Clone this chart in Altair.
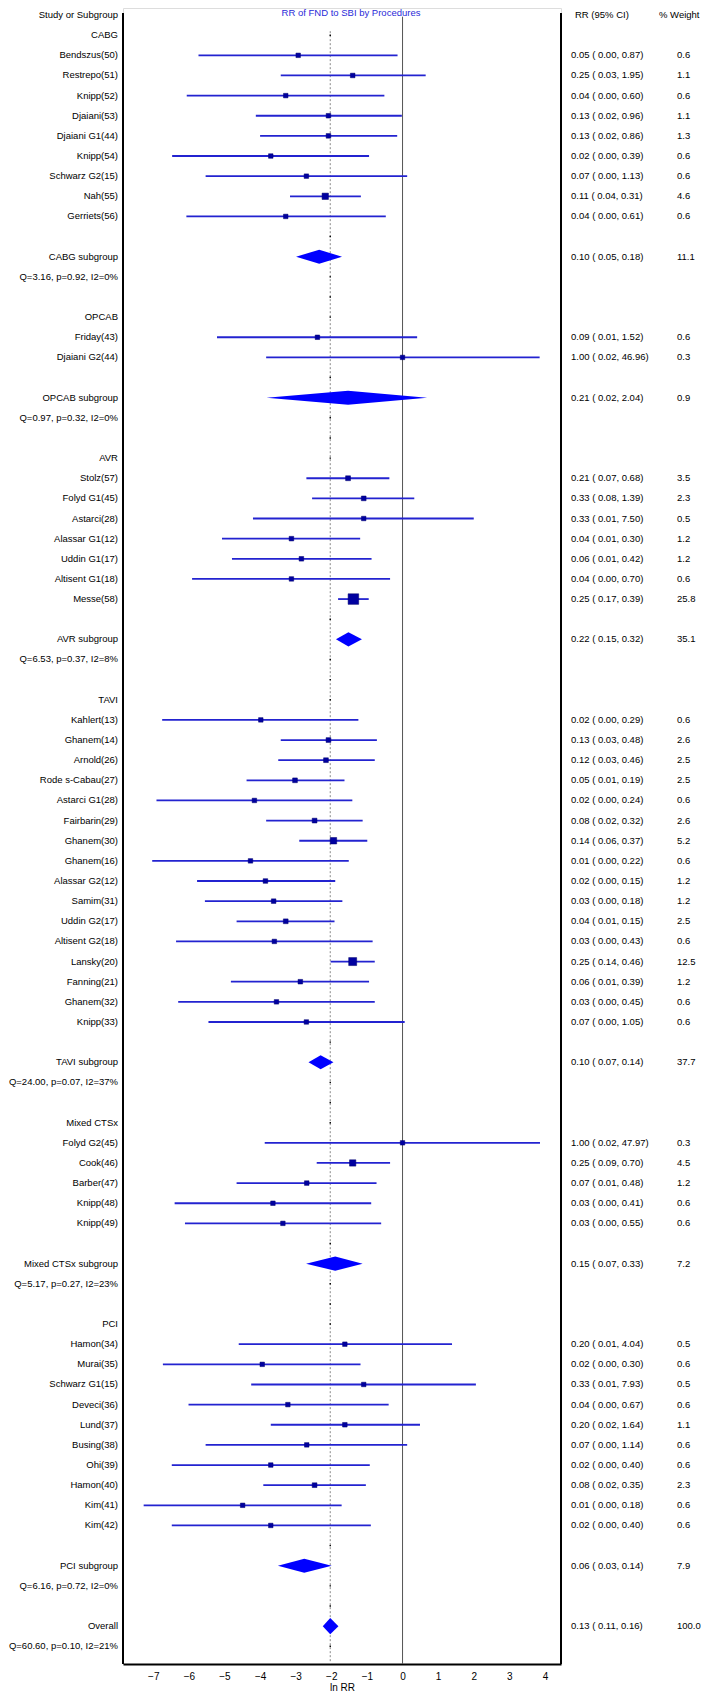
import altair as alt
import pandas as pd

# ------------------------------------------------------------------ data
TITLE = "RR of FND to SBI by Procedures"

group_names = ["CABG", "OPCAB", "AVR", "TAVI", "Mixed CTSx", "PCI"]

cabg_names = ["Bendszus(50)", "Restrepo(51)", "Knipp(52)", "Djaiani(53)", "Djaiani G1(44)",
              "Knipp(54)", "Schwarz G2(15)", "Nah(55)", "Gerriets(56)"]
cabg_rr = [0.05, 0.25, 0.04, 0.13, 0.13, 0.02, 0.07, 0.11, 0.04]
cabg_lo = [0.00, 0.03, 0.00, 0.02, 0.02, 0.00, 0.00, 0.04, 0.00]
cabg_hi = [0.87, 1.95, 0.60, 0.96, 0.86, 0.39, 1.13, 0.31, 0.61]
cabg_w = [0.6, 1.1, 0.6, 1.1, 1.3, 0.6, 0.6, 4.6, 0.6]
cabg_ln = [-2.93, -1.40, -3.28, -2.08, -2.08, -3.70, -2.70, -2.17, -3.28]
cabg_ln_lo = [-5.73, -3.42, -6.06, -4.12, -4.00, -6.47, -5.53, -3.16, -6.07]
cabg_ln_hi = [-0.14, 0.65, -0.51, -0.02, -0.15, -0.94, 0.13, -1.17, -0.47]

opcab_names = ["Friday(43)", "Djaiani G2(44)"]
opcab_rr = [0.09, 1.00]
opcab_lo = [0.01, 0.02]
opcab_hi = [1.52, 46.96]
opcab_w = [0.6, 0.3]
opcab_ln = [-2.39, 0.00]
opcab_ln_lo = [-5.21, -3.83]
opcab_ln_hi = [0.41, 3.85]

avr_names = ["Stolz(57)", "Folyd G1(45)", "Astarci(28)", "Alassar G1(12)", "Uddin G1(17)",
             "Altisent G1(18)", "Messe(58)"]
avr_rr = [0.21, 0.33, 0.33, 0.04, 0.06, 0.04, 0.25]
avr_lo = [0.07, 0.08, 0.01, 0.01, 0.01, 0.00, 0.17]
avr_hi = [0.68, 1.39, 7.50, 0.30, 0.42, 0.70, 0.39]
avr_w = [3.5, 2.3, 0.5, 1.2, 1.2, 0.6, 25.8]
avr_ln = [-1.53, -1.09, -1.09, -3.12, -2.84, -3.12, -1.38]
avr_ln_lo = [-2.70, -2.54, -4.20, -5.07, -4.79, -5.91, -1.81]
avr_ln_hi = [-0.37, 0.33, 2.00, -1.19, -0.87, -0.35, -0.95]

tavi_names = ["Kahlert(13)", "Ghanem(14)", "Arnold(26)", "Rode s-Cabau(27)", "Astarci G1(28)",
              "Fairbarin(29)", "Ghanem(30)", "Ghanem(16)", "Alassar G2(12)", "Samim(31)",
              "Uddin G2(17)", "Altisent G2(18)", "Lansky(20)", "Fanning(21)", "Ghanem(32)",
              "Knipp(33)"]
tavi_rr = [0.02, 0.13, 0.12, 0.05, 0.02, 0.08, 0.14, 0.01, 0.02, 0.03, 0.04, 0.03, 0.25, 0.06, 0.03, 0.07]
tavi_lo = [0.00, 0.03, 0.03, 0.01, 0.00, 0.02, 0.06, 0.00, 0.00, 0.00, 0.01, 0.00, 0.14, 0.01, 0.00, 0.00]
tavi_hi = [0.29, 0.48, 0.46, 0.19, 0.24, 0.32, 0.37, 0.22, 0.15, 0.18, 0.15, 0.43, 0.46, 0.39, 0.45, 1.05]
tavi_w = [0.6, 2.6, 2.5, 2.5, 0.6, 2.6, 5.2, 0.6, 1.2, 1.2, 2.5, 0.6, 12.5, 1.2, 0.6, 0.6]
tavi_ln = [-3.98, -2.08, -2.15, -3.02, -4.16, -2.47, -1.94, -4.27, -3.85, -3.62, -3.28, -3.60,
           -1.40, -2.87, -3.54, -2.70]
tavi_ln_lo = [-6.75, -3.42, -3.49, -4.38, -6.91, -3.83, -2.90, -7.03, -5.77, -5.55, -4.66, -6.36,
              -2.02, -4.82, -6.30, -5.45]
tavi_ln_hi = [-1.24, -0.72, -0.78, -1.63, -1.41, -1.12, -0.99, -1.51, -1.89, -1.69, -1.91, -0.84,
              -0.78, -0.94, -0.78, 0.06]

mixed_names = ["Folyd G2(45)", "Cook(46)", "Barber(47)", "Knipp(48)", "Knipp(49)"]
mixed_rr = [1.00, 0.25, 0.07, 0.03, 0.03]
mixed_lo = [0.02, 0.09, 0.01, 0.00, 0.00]
mixed_hi = [47.97, 0.70, 0.48, 0.41, 0.55]
mixed_w = [0.3, 4.5, 1.2, 0.6, 0.6]
mixed_ln = [0.00, -1.40, -2.69, -3.64, -3.36]
mixed_ln_lo = [-3.87, -2.41, -4.66, -6.40, -6.11]
mixed_ln_hi = [3.86, -0.35, -0.73, -0.88, -0.60]

pci_names = ["Hamon(34)", "Murai(35)", "Schwarz G1(15)", "Deveci(36)", "Lund(37)", "Busing(38)",
             "Ohi(39)", "Hamon(40)", "Kim(41)", "Kim(42)"]
pci_rr = [0.20, 0.02, 0.33, 0.04, 0.20, 0.07, 0.02, 0.08, 0.01, 0.02]
pci_lo = [0.01, 0.00, 0.01, 0.00, 0.02, 0.00, 0.00, 0.02, 0.00, 0.00]
pci_hi = [4.04, 0.30, 7.93, 0.67, 1.64, 1.14, 0.40, 0.35, 0.18, 0.40]
pci_w = [0.5, 0.6, 0.5, 0.6, 1.1, 0.6, 0.6, 2.3, 0.6, 0.6]
pci_ln = [-1.62, -3.94, -1.09, -3.22, -1.62, -2.69, -3.70, -2.47, -4.49, -3.70]
pci_ln_lo = [-4.60, -6.73, -4.25, -6.01, -3.70, -5.53, -6.48, -3.91, -7.27, -6.48]
pci_ln_hi = [1.39, -1.18, 2.06, -0.39, 0.49, 0.13, -0.92, -1.03, -1.71, -0.89]

# subgroup summaries (same order as group_names)
sub_rr = [0.10, 0.21, 0.22, 0.10, 0.15, 0.06]
sub_lo = [0.05, 0.02, 0.15, 0.07, 0.07, 0.03]
sub_hi = [0.18, 2.04, 0.32, 0.14, 0.33, 0.14]
sub_w = [11.1, 0.9, 35.1, 37.7, 7.2, 7.9]
sub_ln = [-2.34, -1.53, -1.52, -2.30, -1.89, -2.76]
sub_ln_lo = [-2.99, -3.82, -1.87, -2.64, -2.71, -3.50]
sub_ln_hi = [-1.70, 0.69, -1.14, -1.94, -1.12, -1.99]
sub_het = ["Q=3.16, p=0.92, I2=0%", "Q=0.97, p=0.32, I2=0%", "Q=6.53, p=0.37, I2=8%",
           "Q=24.00, p=0.07, I2=37%", "Q=5.17, p=0.27, I2=23%", "Q=6.16, p=0.72, I2=0%"]

overall_rr, overall_lo, overall_hi, overall_w = 0.13, 0.11, 0.16, 100.0
overall_ln, overall_ln_lo, overall_ln_hi = -2.03, -2.24, -1.80
overall_het = "Q=60.60, p=0.10, I2=21%"

x_ticks = [-7, -6, -5, -4, -3, -2, -1, 0, 1, 2, 3, 4]

# ------------------------------------------------------------------ layout constants
XMIN, XMAX = -7.85, 4.45
YMIN, YMAX = -0.35, 81.88
W, H = 438, 1656
FONT = "Liberation Sans"
FS = 9.5
DIAM_H = 0.35
DIAM_H_OVERALL = 0.40

groups = [
    (cabg_names, cabg_rr, cabg_lo, cabg_hi, cabg_w, cabg_ln, cabg_ln_lo, cabg_ln_hi),
    (opcab_names, opcab_rr, opcab_lo, opcab_hi, opcab_w, opcab_ln, opcab_ln_lo, opcab_ln_hi),
    (avr_names, avr_rr, avr_lo, avr_hi, avr_w, avr_ln, avr_ln_lo, avr_ln_hi),
    (tavi_names, tavi_rr, tavi_lo, tavi_hi, tavi_w, tavi_ln, tavi_ln_lo, tavi_ln_hi),
    (mixed_names, mixed_rr, mixed_lo, mixed_hi, mixed_w, mixed_ln, mixed_ln_lo, mixed_ln_hi),
    (pci_names, pci_rr, pci_lo, pci_hi, pci_w, pci_ln, pci_ln_lo, pci_ln_hi),
]


def rr_text(rr, lo, hi):
    return f"{rr:.2f} ( {lo:.2f}, {hi:.2f})"


labels, studies, diamonds, stats = [], [], [], []
labels.append({"row": 0, "label": "Study or Subgroup"})
r = 1
for gi, (names, rr, lo, hi, w, ln, lnlo, lnhi) in enumerate(groups):
    labels.append({"row": r, "label": group_names[gi]})
    r += 1
    for i in range(len(names)):
        labels.append({"row": r, "label": names[i]})
        studies.append({"row": r, "pt": ln[i], "lo": lnlo[i], "hi": lnhi[i], "w": w[i]})
        stats.append({"row": r, "rr": rr_text(rr[i], lo[i], hi[i]), "w": f"{w[i]:.1f}"})
        r += 1
    r += 1
    labels.append({"row": r, "label": f"{group_names[gi]} subgroup"})
    stats.append({"row": r, "rr": rr_text(sub_rr[gi], sub_lo[gi], sub_hi[gi]), "w": f"{sub_w[gi]:.1f}"})
    diamonds.append({"id": gi, "x": sub_ln_lo[gi], "y": r, "y2": r})
    diamonds.append({"id": gi, "x": sub_ln[gi], "y": r - DIAM_H, "y2": r + DIAM_H})
    diamonds.append({"id": gi, "x": sub_ln_hi[gi], "y": r, "y2": r})
    r += 1
    labels.append({"row": r, "label": sub_het[gi]})
    r += 2
labels.append({"row": r, "label": "Overall"})
stats.append({"row": r, "rr": rr_text(overall_rr, overall_lo, overall_hi), "w": f"{overall_w:.1f}"})
diamonds.append({"id": 99, "x": overall_ln_lo, "y": r, "y2": r})
diamonds.append({"id": 99, "x": overall_ln, "y": r - DIAM_H_OVERALL, "y2": r + DIAM_H_OVERALL})
diamonds.append({"id": 99, "x": overall_ln_hi, "y": r, "y2": r})
r += 1
labels.append({"row": r, "label": overall_het})
last_row = r

lab_df = pd.DataFrame(labels)
st_df = pd.DataFrame(studies)
dia_df = pd.DataFrame(diamonds)
stat_df = pd.DataFrame(stats)

used = set(st_df["row"]) | set(stat_df["row"])
dot_df = pd.DataFrame({"row": [k for k in range(1, last_row + 1) if k not in used],
                       "e": overall_ln})

xs = alt.Scale(domain=[XMIN, XMAX], nice=False, zero=False)
ys = alt.Scale(domain=[YMIN, YMAX], reverse=True, nice=False, zero=False)
XAX = alt.Axis(values=x_ticks, ticks=False, grid=False, domainColor="black", domainWidth=2,
               labelFont=FONT, labelFontSize=10, labelColor="black", labelPadding=7,
               labelFlush=False, title="ln RR", titleFont=FONT, titleFontSize=10,
               titleFontWeight="normal", titleColor="black", titlePadding=1)


def X(f):
    return alt.X(f, scale=xs, axis=XAX, title="ln RR")


def Y(f):
    return alt.Y(f, scale=ys, axis=None)


frame = alt.Chart(pd.DataFrame({"e": [XMIN, XMAX], "top": [-0.1, -0.1]})).mark_rule(
    color="black", strokeWidth=2).encode(x=X("e:Q"), y=Y("top:Q"), y2=alt.value(H))

zero = alt.Chart(pd.DataFrame({"e": [0.0], "top": [0.08]})).mark_rule(
    color="#555555", strokeWidth=1).encode(x=X("e:Q"), y=Y("top:Q"), y2=alt.value(H))

ref = alt.Chart(pd.DataFrame({"e": [overall_ln], "top": [0.8]})).mark_rule(
    color="#888888", strokeWidth=1, strokeDash=[2, 2]).encode(
    x=X("e:Q"), y=Y("top:Q"), y2=alt.value(H))

dots = alt.Chart(dot_df).mark_square(size=2, color="black", opacity=1).encode(
    x=X("e:Q"), y=Y("row:Q"))

ci = alt.Chart(st_df).mark_rule(color="#2323d0", strokeWidth=1.8).encode(
    x=X("lo:Q"), x2="hi:Q", y=Y("row:Q"))

sq = alt.Chart(st_df).mark_square(filled=True, color="#0000a0", stroke="#00006a",
                                  strokeWidth=0.5, opacity=1).encode(
    x=X("pt:Q"), y=Y("row:Q"),
    size=alt.Size("w:Q", legend=None,
                  scale=alt.Scale(domain=[0.3, 3.5, 4.5, 12.5, 25.8],
                                  range=[20, 24, 40, 64, 112])))

dia = alt.Chart(dia_df).mark_area(color="#0000ff", orient="vertical", opacity=1).encode(
    x=X("x:Q"), y=Y("y:Q"), y2="y2:Q", detail="id:N")

left_txt = alt.Chart(lab_df).mark_text(align="right", baseline="middle", font=FONT,
                                        fontSize=FS, color="black").encode(
    x=alt.value(-5), y=Y("row:Q"), text="label:N")

rr_txt = alt.Chart(stat_df).mark_text(align="left", baseline="middle", font=FONT,
                                       fontSize=FS, color="black").encode(
    x=alt.value(448), y=Y("row:Q"), text="rr:N")

w_txt = alt.Chart(stat_df).mark_text(align="left", baseline="middle", font=FONT,
                                      fontSize=FS, color="black").encode(
    x=alt.value(554), y=Y("row:Q"), text="w:N")

hdr_df = pd.DataFrame({"row": [0], "a": ["RR (95% CI)"], "b": ["% Weight"]})
hdr_a = alt.Chart(hdr_df).mark_text(align="left", baseline="middle", font=FONT,
                                     fontSize=FS, color="black").encode(
    x=alt.value(452), y=Y("row:Q"), text="a:N")
hdr_b = alt.Chart(hdr_df).mark_text(align="left", baseline="middle", font=FONT,
                                     fontSize=FS, color="black").encode(
    x=alt.value(536), y=Y("row:Q"), text="b:N")

title = alt.Chart(pd.DataFrame({"t": [TITLE]})).mark_text(
    align="center", baseline="top", font=FONT, fontSize=FS, color="#2a2ad8").encode(
    x=alt.value(228), y=alt.value(0), text="t:N")

chart = alt.layer(frame, zero, ref, dots, ci, sq, dia, left_txt, rr_txt, w_txt,
                  hdr_a, hdr_b, title).properties(
    width=W, height=H,
    padding={"left": 115, "top": 0, "right": 140, "bottom": 30},
    autosize=alt.AutoSizeParams(type="none"),
).configure_view(stroke=None).configure(font=FONT)

chart.save("out.html", embed_options={"renderer": "svg", "actions": False})
